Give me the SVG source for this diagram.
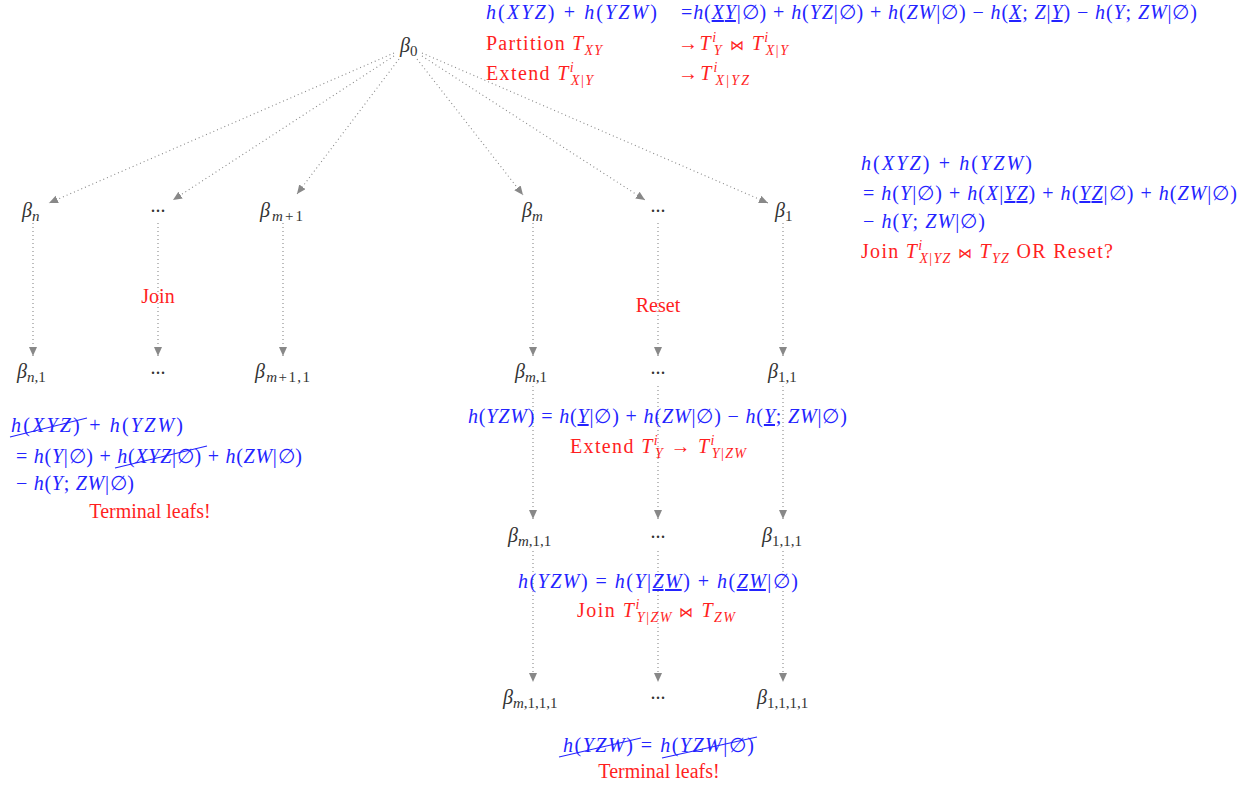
<svg xmlns="http://www.w3.org/2000/svg" width="1250" height="788" viewBox="0 0 1250 788">
<style>
text{font-family:"Liberation Serif","DejaVu Serif",serif;font-size:20px}
.b{fill:#2323ff}
.r{fill:#ff1f1f}
.n{fill:#333}
.i{font-style:italic}
.u{text-decoration:underline}
.s{font-size:14px}
.t{font-size:15px}
.x{font-size:14px}
.e{stroke:#888;stroke-width:1.1;stroke-dasharray:1 3;fill:none}
.k{stroke:#2323ff;stroke-width:1.1;fill:none}
</style>
<defs>
<marker id="ah" markerWidth="10" markerHeight="9" refX="9" refY="4" orient="auto" markerUnits="userSpaceOnUse">
<path d="M0,0 L9,4 L0,8 Z" fill="#888"/>
</marker>
</defs>
<rect width="1250" height="788" fill="#fff"/>
<g id="connectors">
<line class="e" x1="394" y1="53" x2="49" y2="203" marker-end="url(#ah)"/>
<line class="e" x1="394" y1="56" x2="173" y2="200" marker-end="url(#ah)"/>
<line class="e" x1="399" y1="59" x2="297" y2="194" marker-end="url(#ah)"/>
<line class="e" x1="417" y1="59" x2="523" y2="195" marker-end="url(#ah)"/>
<line class="e" x1="422" y1="56" x2="645" y2="200" marker-end="url(#ah)"/>
<line class="e" x1="422" y1="53" x2="768" y2="203" marker-end="url(#ah)"/>
<line class="e" x1="33" y1="223" x2="33" y2="356" marker-end="url(#ah)"/>
<line class="e" x1="158" y1="223" x2="158" y2="356" marker-end="url(#ah)"/>
<line class="e" x1="283" y1="223" x2="283" y2="356" marker-end="url(#ah)"/>
<line class="e" x1="533" y1="223" x2="533" y2="356" marker-end="url(#ah)"/>
<line class="e" x1="658" y1="223" x2="658" y2="356" marker-end="url(#ah)"/>
<line class="e" x1="783" y1="223" x2="783" y2="356" marker-end="url(#ah)"/>
<line class="e" x1="533" y1="386" x2="533" y2="519" marker-end="url(#ah)"/>
<line class="e" x1="658" y1="386" x2="658" y2="519" marker-end="url(#ah)"/>
<line class="e" x1="783" y1="386" x2="783" y2="519" marker-end="url(#ah)"/>
<line class="e" x1="533" y1="551" x2="533" y2="682" marker-end="url(#ah)"/>
<line class="e" x1="658" y1="551" x2="658" y2="682" marker-end="url(#ah)"/>
<line class="e" x1="783" y1="551" x2="783" y2="682" marker-end="url(#ah)"/>
</g>
<g id="b0"><text class="n" x="400" y="52"><tspan class="i">β</tspan><tspan class="t" dy="4">0</tspan></text></g>
<g id="bn"><text class="n" x="22" y="217"><tspan class="i">β</tspan><tspan class="t i" dy="4">n</tspan></text></g>
<g id="dots1"><text class="n" x="158" y="212" text-anchor="middle">...</text></g>
<g id="bm1"><text class="n" x="260" y="217" textLength="43"><tspan class="i">β</tspan><tspan class="t" dy="4"><tspan class="i">m</tspan>+1</tspan></text></g>
<g id="bm"><text class="n" x="522" y="217"><tspan class="i">β</tspan><tspan class="t i" dy="4">m</tspan></text></g>
<g id="dots2"><text class="n" x="658" y="212" text-anchor="middle">...</text></g>
<g id="b1"><text class="n" x="775" y="217"><tspan class="i">β</tspan><tspan class="t" dy="4">1</tspan></text></g>
<g id="bn_1"><text class="n" x="17" y="378"><tspan class="i">β</tspan><tspan class="t" dy="4"><tspan class="i">n</tspan>,1</tspan></text></g>
<g id="dots3"><text class="n" x="158" y="374" text-anchor="middle">...</text></g>
<g id="bm1_1"><text class="n" x="255" y="378" textLength="55"><tspan class="i">β</tspan><tspan class="t" dy="4"><tspan class="i">m</tspan>+1,1</tspan></text></g>
<g id="bm_1"><text class="n" x="515" y="378"><tspan class="i">β</tspan><tspan class="t" dy="4"><tspan class="i">m</tspan>,1</tspan></text></g>
<g id="dots4"><text class="n" x="658" y="374" text-anchor="middle">...</text></g>
<g id="b1_1"><text class="n" x="768" y="378"><tspan class="i">β</tspan><tspan class="t" dy="4">1,1</tspan></text></g>
<g id="bm_1_1"><text class="n" x="508" y="542"><tspan class="i">β</tspan><tspan class="t" dy="4"><tspan class="i">m</tspan>,1,1</tspan></text></g>
<g id="dots5"><text class="n" x="658" y="538" text-anchor="middle">...</text></g>
<g id="b1_1_1"><text class="n" x="762" y="542"><tspan class="i">β</tspan><tspan class="t" dy="4">1,1,1</tspan></text></g>
<g id="bm_1_1_1"><text class="n" x="503" y="704"><tspan class="i">β</tspan><tspan class="t" dy="4"><tspan class="i">m</tspan>,1,1,1</tspan></text></g>
<g id="dots6"><text class="n" x="658" y="699" text-anchor="middle">...</text></g>
<g id="b1_1_1_1"><text class="n" x="757" y="704"><tspan class="i">β</tspan><tspan class="t" dy="4">1,1,1,1</tspan></text></g>

<g id="top-note">
<text class="b" x="486" y="19" textLength="171"><tspan class="i">h</tspan>(<tspan class="i">XYZ</tspan>) + <tspan class="i">h</tspan>(<tspan class="i">YZW</tspan>)</text>
<text class="b" x="681" y="19" textLength="516">=<tspan class="i">h</tspan>(<tspan class="i u">XY</tspan>|∅) + <tspan class="i">h</tspan>(<tspan class="i">YZ</tspan>|∅) + <tspan class="i">h</tspan>(<tspan class="i">ZW</tspan>|∅) − <tspan class="i">h</tspan>(<tspan class="i u">X</tspan>; <tspan class="i">Z</tspan>|<tspan class="i u">Y</tspan>) − <tspan class="i">h</tspan>(<tspan class="i">Y</tspan>; <tspan class="i">ZW</tspan>|∅)</text>
<text class="r" x="486" y="50" textLength="116">Partition <tspan class="i">T</tspan><tspan class="s i" dy="5">XY</tspan></text>
<text class="r" x="678" y="50" textLength="110">→<tspan class="i">T</tspan><tspan class="s i" dy="-8">i</tspan><tspan class="s i" dx="-4" dy="13">Y</tspan><tspan dy="-5"> </tspan><tspan class="x">⋈</tspan> <tspan class="i">T</tspan><tspan class="s i" dy="-8">i</tspan><tspan class="s" dx="-4" dy="13"><tspan class="i">X</tspan>|<tspan class="i">Y</tspan></tspan></text>
<text class="r" x="486" y="80" textLength="107">Extend <tspan class="i">T</tspan><tspan class="s i" dy="-8">i</tspan><tspan class="s" dx="-4" dy="13"><tspan class="i">X</tspan>|<tspan class="i">Y</tspan></tspan></text>
<text class="r" x="678" y="80" textLength="71">→<tspan class="i">T</tspan><tspan class="s i" dy="-8">i</tspan><tspan class="s" dx="-4" dy="13"><tspan class="i">X</tspan>|<tspan class="i">YZ</tspan></tspan></text>
</g>

<g id="right-note">
<text class="b" x="861" y="170" textLength="171"><tspan class="i">h</tspan>(<tspan class="i">XYZ</tspan>) + <tspan class="i">h</tspan>(<tspan class="i">YZW</tspan>)</text>
<text class="b" x="863" y="200" textLength="374">= <tspan class="i">h</tspan>(<tspan class="i">Y</tspan>|∅) + <tspan class="i">h</tspan>(<tspan class="i">X</tspan>|<tspan class="i u">YZ</tspan>) + <tspan class="i">h</tspan>(<tspan class="i u">YZ</tspan>|∅) + <tspan class="i">h</tspan>(<tspan class="i">ZW</tspan>|∅)</text>
<text class="b" x="863" y="228" textLength="122">− <tspan class="i">h</tspan>(<tspan class="i">Y</tspan>; <tspan class="i">ZW</tspan>|∅)</text>
<text class="r" x="861" y="258" textLength="252">Join <tspan class="i">T</tspan><tspan class="s i" dy="-8">i</tspan><tspan class="s" dx="-4" dy="13"><tspan class="i">X</tspan>|<tspan class="i">YZ</tspan></tspan><tspan dy="-5"> </tspan><tspan class="x">⋈</tspan> <tspan class="i">T</tspan><tspan class="s i" dy="5">YZ</tspan><tspan dy="-5"> OR Reset?</tspan></text>
</g>

<g id="left-note">
<text class="b" x="11" y="432" textLength="172"><tspan class="i">h</tspan>(<tspan class="i">XYZ</tspan>) + <tspan class="i">h</tspan>(<tspan class="i">YZW</tspan>)</text>
<text class="b" x="16" y="463" textLength="286">= <tspan class="i">h</tspan>(<tspan class="i">Y</tspan>|∅) + <tspan class="i">h</tspan>(<tspan class="i">XYZ</tspan>|∅) + <tspan class="i">h</tspan>(<tspan class="i">ZW</tspan>|∅)</text>
<text class="b" x="16" y="490" textLength="118">− <tspan class="i">h</tspan>(<tspan class="i">Y</tspan>; <tspan class="i">ZW</tspan>|∅)</text>
<line class="k" x1="10" y1="437" x2="87" y2="418"/>
<line class="k" x1="115" y1="468" x2="207" y2="446"/>
<text class="r" x="150" y="518" text-anchor="middle">Terminal leafs!</text>
</g>

<g id="join-label"><text class="r" x="158" y="303" text-anchor="middle">Join</text></g>
<g id="reset-label"><text class="r" x="658" y="312" text-anchor="middle">Reset</text></g>

<g id="mid-note1">
<text class="b" x="468" y="423" textLength="379"><tspan class="i">h</tspan>(<tspan class="i">YZW</tspan>) = <tspan class="i">h</tspan>(<tspan class="i u">Y</tspan>|∅) + <tspan class="i">h</tspan>(<tspan class="i">ZW</tspan>|∅) − <tspan class="i">h</tspan>(<tspan class="i u">Y</tspan>; <tspan class="i">ZW</tspan>|∅)</text>
<text class="r" x="570" y="453" textLength="176">Extend <tspan class="i">T</tspan><tspan class="s i" dy="-8">i</tspan><tspan class="s i" dx="-4" dy="13">Y</tspan><tspan dy="-5"> → </tspan><tspan class="i">T</tspan><tspan class="s i" dy="-8">i</tspan><tspan class="s" dx="-4" dy="13"><tspan class="i">Y</tspan>|<tspan class="i">ZW</tspan></tspan></text>
</g>

<g id="mid-note2">
<text class="b" x="518" y="588" textLength="280"><tspan class="i">h</tspan>(<tspan class="i">YZW</tspan>) = <tspan class="i">h</tspan>(<tspan class="i">Y</tspan>|<tspan class="i u">ZW</tspan>) + <tspan class="i">h</tspan>(<tspan class="i u">ZW</tspan>|∅)</text>
<text class="r" x="577" y="617" textLength="158">Join <tspan class="i">T</tspan><tspan class="s i" dy="-8">i</tspan><tspan class="s" dx="-4" dy="13"><tspan class="i">Y</tspan>|<tspan class="i">ZW</tspan></tspan><tspan dy="-5"> </tspan><tspan class="x">⋈</tspan> <tspan class="i">T</tspan><tspan class="s i" dy="5">ZW</tspan></text>
</g>

<g id="bottom-note">
<text class="b" x="563" y="752" textLength="191"><tspan class="i">h</tspan>(<tspan class="i">YZW</tspan>) = <tspan class="i">h</tspan>(<tspan class="i">YZW</tspan>|∅)</text>
<line class="k" x1="559" y1="757" x2="641" y2="738"/>
<line class="k" x1="662" y1="758" x2="757" y2="737"/>
<text class="r" x="659" y="778" text-anchor="middle">Terminal leafs!</text>
</g>
</svg>
